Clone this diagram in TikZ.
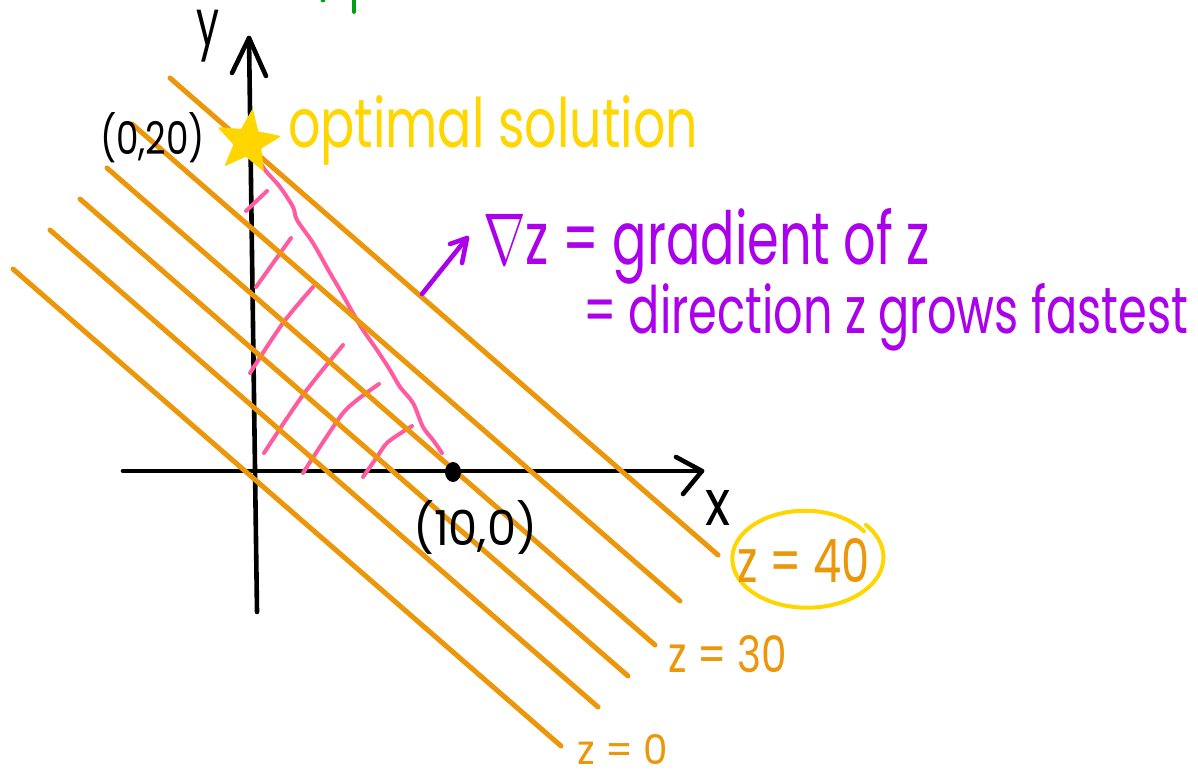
\documentclass[tikz,border=0pt]{standalone}
\usepackage{fontspec}
\usepackage{graphicx}
\setmainfont{Poppins}
\usetikzlibrary{shapes.geometric}
\definecolor{zorange}{RGB}{236,150,10}
\definecolor{zyellow}{RGB}{255,214,0}
\definecolor{zpink}{RGB}{255,92,160}
\definecolor{zpurple}{RGB}{170,0,235}
\definecolor{zgreen}{RGB}{0,160,20}
\newcommand\fitbox[3]{\resizebox{#1pt}{#2pt}{#3}}
\newcommand\fitboxt[3]{\resizebox*{#1pt}{#2pt}{#3}}
\begin{document}
\begin{tikzpicture}[x=1pt,y=-1pt,line cap=round,line join=round,
  zline/.style={draw=zorange,line width=5pt},
  axisline/.style={draw=black,line width=4.6pt},
  hatch/.style={draw=zpink,line width=4pt},
  gradarrow/.style={draw=zpurple,line width=4.6pt},
  lbl/.style={inner sep=0pt,outer sep=0pt,anchor=base west}]
\fill[white] (0,0) rectangle (1198,778);
\useasboundingbox (0,0) rectangle (1198,778);

% green fragment at top
\draw[zgreen,line width=3.8pt] (354,-2) -- (354,12);
\fill[zgreen] (323,0) circle (2.4pt);

% axes
\coordinate (ybot) at (257,612);
\coordinate (ytop) at (249,38);
\coordinate (yarmL) at (232,73);
\coordinate (yarmR) at (266,76);
\coordinate (xleft) at (123,471);
\coordinate (xtip) at (702,471);
\coordinate (xarmT) at (676,457);
\coordinate (xarmB) at (683,494);
\draw[axisline] (ybot) -- (ytop);
\draw[axisline] (yarmL) -- (ytop) -- (yarmR);
\draw[axisline] (xleft) -- (xtip);
\draw[axisline] (xarmT) -- (xtip) -- (xarmB);

% feasible region boundary and hatching
\draw[hatch] plot[smooth] coordinates {(258,158) (265,170) (280,187) (293,207) (297,220) (313,243) (330,273) (340,290) (353,313) (363,330) (377,350) (390,370) (400,387) (413,403) (423,427) (433,440) (442,453)};
\draw[hatch] (246,211) -- (267,191);
\draw[hatch] (256,287) -- (291,238);
\draw[hatch] plot[smooth] coordinates {(250,373) (283,323) (313,287)};
\draw[hatch] plot[smooth] coordinates {(264,453) (303,395) (343,345)};
\draw[hatch] plot[smooth] coordinates {(303,473) (340,417) (357,400) (379,384)};
\draw[hatch] plot[smooth] coordinates {(363,477) (377,457) (388,442) (412,426)};

% level lines z = const
\foreach \i/\sx/\sy in {1/170/78,2/132/124,3/107/168,4/80/199,5/50/230,6/13/269}{
  \coordinate (s\i) at (\sx,\sy);
  \coordinate (e\i) at (\sx+548,\sy+477);
  \draw[zline] (s\i) -- (e\i);
}

% point (10,0)
\fill[black] (453,472) ellipse [x radius=8,y radius=10];

% optimal star
\node[star,star points=5,star point ratio=2.3,fill=zyellow,draw=zyellow,line width=1.5pt,
  minimum size=64pt,inner sep=0pt,rotate=-8] (star) at (248,142) {};

% gradient arrow
\coordinate (gtail) at (422,294);
\coordinate (gtip) at (467,238);
\coordinate (garmA) at (450,244);
\coordinate (garmB) at (462,263);
\draw[gradarrow] (gtail) -- (gtip);
\draw[gradarrow] (garmA) -- (gtip) -- (garmB);

% circle around z = 40
\draw[zyellow,line width=4pt] plot[smooth,samples=80,domain=35:400]
  ({806+(0.93+0.1*(\x-35)/365)*76*cos(\x)},{558-(0.93+0.1*(\x-35)/365)*50*sin(\x)});

% texts
\node[inner sep=0pt,outer sep=0pt,anchor=north west,text=black] (ytext) at (196,10) {\fitboxt{23}{52}{y}};
\node[lbl,text=black] (xlab) at (705,525) {\fitbox{25}{35}{x}};
\node[lbl,text=black] (p020) at (100,155) {\fitbox{105}{42}{(0,20)}};
\node[lbl,text=black] (p100) at (413,545) {\fitbox{124}{45}{(10,0)}};
\node[lbl,text=zyellow] (opt) at (288,147) {\fitbox{410}{52}{optimal solution}};
\node[lbl,text=zpurple] (grad1) at (483,264) {\fitbox{447}{56}{$\nabla$z = gradient of z}};
\node[lbl,text=zpurple] (grad2) at (583,333) {\fitbox{605}{50}{= direction z grows fastest}};
\node[lbl,text=zorange] (z40) at (737,582) {\fitbox{133}{44}{z = 40}};
\node[lbl,text=zorange] (z30) at (668,672) {\fitbox{119}{37}{z = 30}};
\node[lbl,text=zorange] (z0) at (577,764) {\fitbox{91}{30}{z = 0}};
\end{tikzpicture}
\end{document}
